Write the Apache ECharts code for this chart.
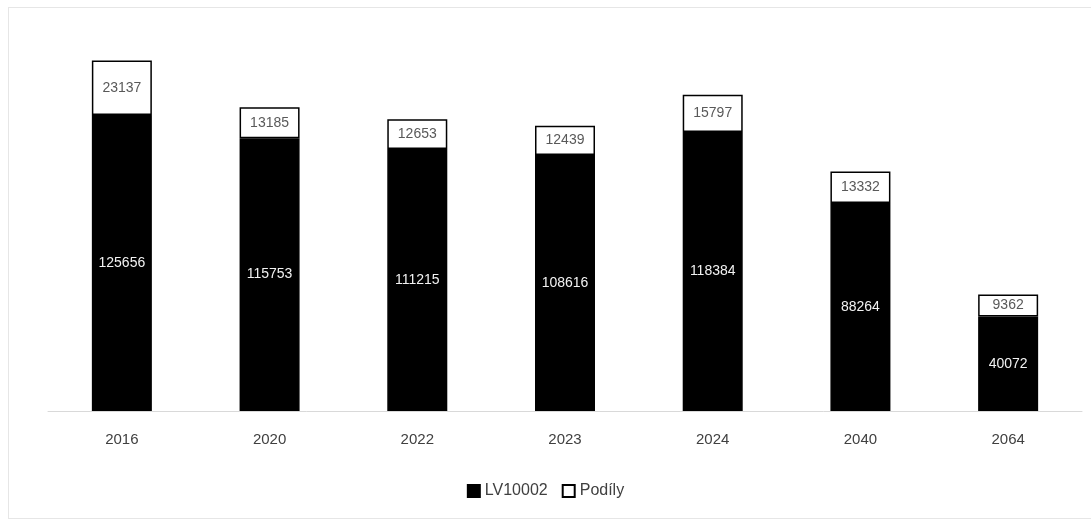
<!DOCTYPE html>
<html><head><meta charset="utf-8">
<script src="https://cdn.jsdelivr.net/npm/echarts@6/dist/echarts.min.js"></script>
<style>html,body{margin:0;padding:0;background:#fff}#c{width:1091px;height:522px}
#frame{position:absolute;left:8px;top:7px;width:1090px;height:512px;border:1px solid #e6e6e6;box-sizing:border-box;pointer-events:none}</style>
</head><body><div id="c"></div><div id="frame"></div>
<script>
const categories = ['2016','2020','2022','2023','2024','2040','2064'];
const lvValues = [125656,115753,111215,108616,118384,88264,40072];
const podilyValues = [23137,13185,12653,12439,15797,13332,9362];
const chart = echarts.init(document.getElementById('c'));
const font = 'Liberation Sans, Arial, sans-serif';
chart.setOption({
  animation:false,
  grid:{left:48,right:9,top:34,bottom:111},
  xAxis:{type:'category',data:categories,
    axisLine:{lineStyle:{color:'#d9d9d9',width:1}},axisTick:{show:false},
    axisLabel:{color:'#404040',fontSize:15,fontFamily:font,margin:21}},
  yAxis:{type:'value',min:0,max:160000,show:false,splitLine:{show:false}},
  legend:{bottom:18,left:'center',itemWidth:12,itemHeight:12,itemGap:14,
    textStyle:{color:'#404040',fontSize:16,fontFamily:font},
    data:[{name:'LV10002',icon:'rect'},{name:'Podíly',icon:'rect'}]},
  series:[
    {name:'LV10002',type:'bar',stack:'a',data:lvValues,barWidth:60,
      itemStyle:{color:'#000',borderColor:'#000',borderWidth:1.5},
      label:{show:true,position:'inside',color:'#f2f2f2',fontSize:14,fontFamily:font}},
    {name:'Podíly',type:'bar',stack:'a',data:podilyValues,barWidth:60,
      itemStyle:{color:'#fff',borderColor:'#000',borderWidth:1.5},
      label:{show:true,position:'inside',color:'#595959',fontSize:14,fontFamily:font}}
  ]
});
</script></body></html>
